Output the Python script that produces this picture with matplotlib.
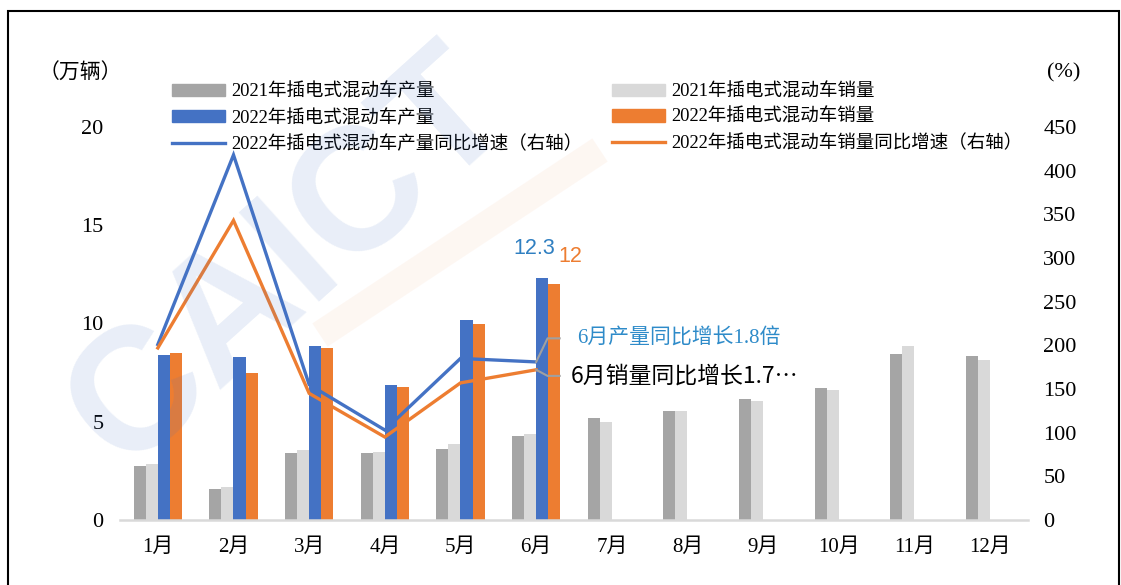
import matplotlib

matplotlib.use("Agg")
import matplotlib.pyplot as plt
import numpy as np
from matplotlib.lines import Line2D
from matplotlib.patches import Patch, Rectangle

plt.rcParams["font.family"] = ["Liberation Serif", "Noto Sans CJK SC"]

# data
months = ["1月", "2月", "3月", "4月", "5月", "6月", "7月", "8月", "9月", "10月", "11月", "12月"]
prod_2021 = [2.76, 1.56, 3.39, 3.39, 3.60, 4.27, 5.17, 5.56, 6.16, 6.73, 8.43, 8.33]
sales_2021 = [2.85, 1.70, 3.56, 3.48, 3.87, 4.36, 4.97, 5.56, 6.06, 6.63, 8.86, 8.15]
prod_2022 = [8.40, 8.28, 8.85, 6.87, 10.20, 12.30]
sales_2022 = [8.48, 7.50, 8.77, 6.77, 10.00, 12.00]
prod_growth = [201, 418, 155, 103, 185, 181]
sales_growth = [197, 343, 145, 95, 157, 172]

labels = [
    "2021年插电式混动车产量",
    "2021年插电式混动车销量",
    "2022年插电式混动车产量",
    "2022年插电式混动车销量",
    "2022年插电式混动车产量同比增速（右轴）",
    "2022年插电式混动车销量同比增速（右轴）",
]

C_GRAY = "#A5A5A5"
C_LGRAY = "#D9D9D9"
C_BLUE = "#4472C4"
C_ORANGE = "#ED7D31"

W, H = 1121, 585
fig = plt.figure(figsize=(W / 100, H / 100), dpi=100)
ax = fig.add_axes([120 / W, 65 / H, 908 / W, 393 / H])
ax2 = ax.twinx()

x = np.arange(len(months))
x22 = np.arange(len(prod_2022))
w = 0.16
ax.bar(x - 1.5 * w, prod_2021, w, color=C_GRAY)
ax.bar(x - 0.5 * w, sales_2021, w, color=C_LGRAY)
ax.bar(x22 + 0.5 * w, prod_2022, w, color=C_BLUE)
ax.bar(x22 + 1.5 * w, sales_2022, w, color=C_ORANGE)

ax2.plot(x22, prod_growth, color=C_BLUE, lw=2.4, solid_joinstyle="miter")
ax2.plot(x22, sales_growth, color=C_ORANGE, lw=2.4, solid_joinstyle="miter")

ax.set_xlim(-0.5, len(months) - 0.5)
ax.set_ylim(0, 20)
ax2.set_ylim(0, 450)
ax.set_yticks(np.arange(0, 21, 5))
ax2.set_yticks(np.arange(0, 451, 50))
ax.set_xticks(x)
ax.set_xticklabels(months)

for a in (ax, ax2):
    for s in a.spines.values():
        s.set_visible(False)
    a.tick_params(length=0, labelsize=16)
ax.spines["bottom"].set_visible(True)
ax.spines["bottom"].set_color(C_LGRAY)
ax.spines["bottom"].set_linewidth(1.8)
ax.tick_params(axis="x", pad=13, labelsize=15)
ax.tick_params(axis="y", pad=12)
ax2.tick_params(axis="y", pad=11)

# value labels for June
ax.text(5 - 0.03, prod_2022[5] + 1.5, f"{prod_2022[5]:.1f}", color="#2F7FC1",
        fontsize=15.5, family="Liberation Sans", ha="center", va="center")
ax.text(5 + 0.45, sales_2022[5] + 1.43, f"{sales_2022[5]:.0f}", color=C_ORANGE,
        fontsize=15.5, family="Liberation Sans", ha="center", va="center")

# callouts for June growth
ex, tx = 5.15, 5.31
ax2.plot([5, ex, tx], [prod_growth[5], 208, 208], color="#A0A0A0", lw=1.5, zorder=5)
ax2.plot([5, ex, tx], [sales_growth[5], 165, 165], color="#A0A0A0", lw=1.5, zorder=5)
ax2.text(tx + 0.23, 208, "6月产量同比增长1.8倍", color="#2E8BC9", fontsize=15,
         ha="left", va="center")
ax2.text(tx + 0.15, 165, "6月销量同比增长1.7…", color="black", fontsize=16.5,
         family=["Noto Sans CJK SC"], ha="left", va="center")

# axis unit labels
fig.text(80 / W, 1 - 74 / H, "（万辆）", fontsize=15, ha="center", va="center")
fig.text(1064 / W, 1 - 73 / H, "(%)", fontsize=16, ha="center", va="center")

# legend, two columns
h1 = [Patch(color=C_GRAY), Patch(color=C_BLUE), Line2D([], [], color=C_BLUE, lw=2.4)]
h2 = [Patch(color=C_LGRAY), Patch(color=C_ORANGE), Line2D([], [], color=C_ORANGE, lw=2.4)]
kw = dict(loc="upper left", frameon=False, fontsize=13.3, handlelength=2.85,
          handleheight=0.65, handletextpad=0.35, labelspacing=0.46,
          borderpad=0, borderaxespad=0)
fig.legend(h1, [labels[0], labels[2], labels[4]], bbox_to_anchor=(172 / W, 1 - 83 / H), **kw)
fig.legend(h2, [labels[1], labels[3], labels[5]], bbox_to_anchor=(612 / W, 1 - 83 / H), **kw)

# faint watermark
fig.text(290 / W, 1 - 260 / H, "CAICT", fontsize=125, fontweight="bold",
         family="Liberation Sans", color=C_BLUE, alpha=0.12, rotation=42,
         ha="center", va="center", zorder=10)
fig.add_artist(Line2D([320 / W, 600 / W], [1 - 335 / H, 1 - 150 / H], color=C_ORANGE,
                      lw=20, alpha=0.06, solid_capstyle="butt"))

# outer frame
fig.add_artist(Rectangle((8 / W, -0.1), 1111 / W, 1.1 - 11 / H, fill=False,
                         edgecolor="black", lw=1.5, transform=fig.transFigure,
                         clip_on=False))

fig.savefig("out.png", dpi=100)
